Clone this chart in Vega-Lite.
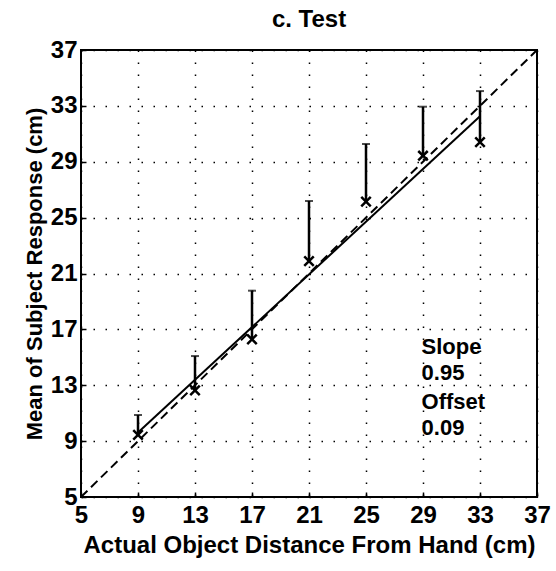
{
  "$schema": "https://vega.github.io/schema/vega-lite/v6.json",
  "width": 456,
  "height": 447,
  "autosize": {"type": "none"},
  "padding": {"left": 81, "top": 50, "right": 19, "bottom": 74},
  "background": "white",
  "config": {
    "font": "Liberation Sans",
    "view": {"stroke": "black", "strokeWidth": 2},
    "axis": {
      "grid": true,
      "gridColor": "black",
      "gridDash": [1.5, 10.5],
      "gridWidth": 1.5,
      "gridOpacity": 1,
      "domain": false,
      "tickColor": "black",
      "tickSize": -5,
      "tickWidth": 1.5,
      "labelFlush": false,
      "labelOverlap": false,
      "labelFont": "Liberation Sans",
      "labelFontSize": 24,
      "labelFontWeight": "bold",
      "labelColor": "black",
      "titleFont": "Liberation Sans",
      "titleFontSize": 22,
      "titleFontWeight": "bold",
      "titleColor": "black"
    }
  },
  "title": {"text": "c. Test", "fontSize": 24, "fontWeight": "bold", "font": "Liberation Sans", "color": "black", "offset": 6},
  "datasets": {
    "pts": [
      {"x": 9, "mean": 9.44, "top": 10.87},
      {"x": 13, "mean": 12.63, "top": 15.09},
      {"x": 17, "mean": 16.29, "top": 19.77},
      {"x": 21, "mean": 21.89, "top": 26.19},
      {"x": 25, "mean": 26.14, "top": 30.27},
      {"x": 29, "mean": 29.43, "top": 32.94},
      {"x": 33, "mean": 30.4, "top": 34.06}
    ],
    "fit": [
      {"x": 9, "y": 9.62},
      {"x": 33, "y": 32.25}
    ],
    "ident": [
      {"x": 5, "y": 5},
      {"x": 37, "y": 37}
    ],
    "ann": [
      {"x": 28.9, "y": 15.76, "label": "Slope"},
      {"x": 28.9, "y": 13.88, "label": "0.95"},
      {"x": 28.9, "y": 11.82, "label": "Offset"},
      {"x": 28.9, "y": 9.94, "label": "0.09"}
    ]
  },
  "layer": [
    {
      "data": {"name": "ident"},
      "mark": {"type": "line", "color": "black", "strokeWidth": 2, "strokeDash": [9, 5]},
      "encoding": {
        "x": {"field": "x", "type": "quantitative", "scale": {"domain": [5, 37], "nice": false, "zero": false},
              "axis": {"values": [5, 9, 13, 17, 21, 25, 29, 33, 37], "title": "Actual Object Distance From Hand (cm)", "labelPadding": 11, "titlePadding": 6, "titleFontSize": 24}},
        "y": {"field": "y", "type": "quantitative", "scale": {"domain": [5, 37], "nice": false, "zero": false},
              "axis": {"values": [5, 9, 13, 17, 21, 25, 29, 33, 37], "title": "Mean of Subject Response (cm)", "labelPadding": 9, "titlePadding": 4, "titleFontSize": 22}}
      }
    },
    {
      "data": {"name": "fit"},
      "mark": {"type": "line", "color": "black", "strokeWidth": 2},
      "encoding": {
        "x": {"field": "x", "type": "quantitative"},
        "y": {"field": "y", "type": "quantitative"}
      }
    },
    {
      "data": {"name": "pts"},
      "mark": {"type": "rule", "color": "black", "strokeWidth": 2.5},
      "encoding": {
        "x": {"field": "x", "type": "quantitative"},
        "y": {"field": "mean", "type": "quantitative"},
        "y2": {"field": "top"}
      }
    },
    {
      "data": {"name": "pts"},
      "mark": {"type": "tick", "orient": "horizontal", "color": "black", "size": 8, "thickness": 2},
      "encoding": {
        "x": {"field": "x", "type": "quantitative"},
        "y": {"field": "top", "type": "quantitative"}
      }
    },
    {
      "data": {"name": "pts"},
      "mark": {"type": "point", "shape": "M-1,-1L1,1M-1,1L1,-1", "filled": false, "color": "black", "strokeWidth": 2.5, "size": 90, "opacity": 1},
      "encoding": {
        "x": {"field": "x", "type": "quantitative"},
        "y": {"field": "mean", "type": "quantitative"}
      }
    },
    {
      "data": {"name": "ann"},
      "mark": {"type": "text", "align": "left", "baseline": "middle", "fontSize": 22, "fontWeight": "bold", "font": "Liberation Sans", "color": "black"},
      "encoding": {
        "x": {"field": "x", "type": "quantitative"},
        "y": {"field": "y", "type": "quantitative"},
        "text": {"field": "label"}
      }
    }
  ]
}
